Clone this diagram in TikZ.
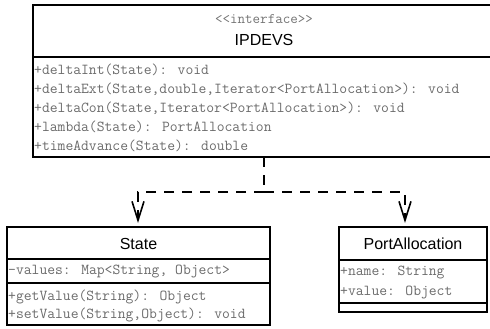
\documentclass[tikz,border=0pt]{standalone}
\usepackage{fontspec}
\setmainfont{Liberation Sans}
\usetikzlibrary{arrows.meta}
\tikzset{
  x=1pt, y=-1pt,
  compart/.style={draw=black, line width=1.6pt, inner sep=0pt},
  titletext/.style={font=\fontsize{16}{16}\selectfont, inner sep=0pt},
  stereo/.style={font=\ttfamily\fontsize{14.6}{14.6}\selectfont, text=black!55, inner sep=0pt},
  member/.style={font=\ttfamily\fontsize{15.2}{15.2}\selectfont, text=black!58, inner sep=0pt, anchor=west},
  realize/.style={line width=2.6pt, dash pattern=on 10pt off 8pt},
  realizetip/.style={-{Straight Barb[length=19pt, width=12pt, line width=1.6pt]}}
}
\begin{document}
\begin{tikzpicture}
\useasboundingbox (0,0) rectangle (490,329);
\clip (0,0) rectangle (490,329);

% interface IPDEVS
\draw[compart] (33,5) rectangle (495,57);
\draw[compart] (33,57) rectangle (495,157);
\node[stereo] (ipster) at (264,19) {<<interface>>};
\node[titletext] (iptitle) at (264,40) {IPDEVS};
\node[member] (m1) at (34,70)  {+deltaInt(State): void};
\node[member] (m2) at (34,89)  {+deltaExt(State,double,Iterator<PortAllocation>): void};
\node[member] (m3) at (34,108) {+deltaCon(State,Iterator<PortAllocation>): void};
\node[member] (m4) at (34,127) {+lambda(State): PortAllocation};
\node[member] (m5) at (34,146) {+timeAdvance(State): double};
\coordinate (ipbottom) at (264,157);

% class State
\draw[compart] (7,227) rectangle (270,259);
\draw[compart] (7,259) rectangle (270,283);
\draw[compart] (7,283) rectangle (270,325);
\node[titletext] (sttitle) at (138.5,244) {State};
\node[member] (s1) at (8,272) {-values: Map<String, Object>};
\node[member] (s2) at (8,297) {+getValue(String): Object};
\node[member] (s3) at (8,315) {+setValue(String,Object): void};
\coordinate (sttop) at (138,223);

% class PortAllocation
\draw[compart] (339,227) rectangle (487,260);
\draw[compart] (339,260) rectangle (487,303);
\draw[compart] (339,303) rectangle (487,312);
\node[titletext] (patitle) at (413,244) {PortAllocation};
\node[member] (p1) at (340,273) {+name: String};
\node[member] (p2) at (340,292) {+value: Object};
\coordinate (patop) at (405,223);

% realization connectors
\coordinate (split) at (264,192);
\draw[realize] (ipbottom) -- (split);
\draw[realize, realizetip] (split) -| (sttop);
\draw[realize, realizetip] (split) -| (patop);
\end{tikzpicture}
\end{document}
